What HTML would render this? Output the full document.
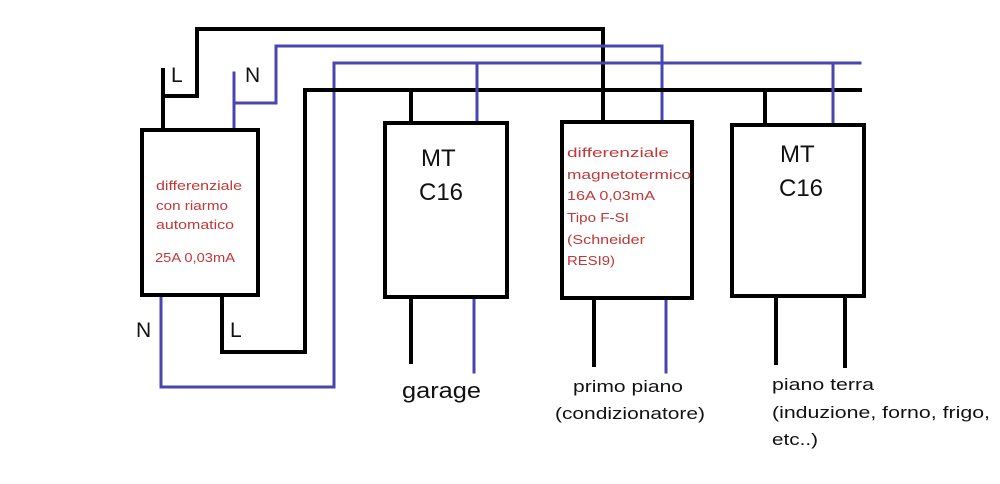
<!DOCTYPE html>
<html><head><meta charset="utf-8"><style>html,body{margin:0;padding:0;background:#fff}svg{display:block}</style></head>
<body>
<svg width="1000" height="484" viewBox="0 0 1000 484" xmlns="http://www.w3.org/2000/svg" font-family="Liberation Sans, sans-serif">
<rect width="1000" height="484" fill="#fff"/>
<g fill="none" stroke-linecap="square">
<polyline points="163,70 163,130" stroke="#000" stroke-width="4"/>
<polyline points="163,96 197,96 197,29 603,29 603,122" stroke="#000" stroke-width="4"/>
<polyline points="234,73 234,130" stroke="#4a46b0" stroke-width="3"/>
<polyline points="234,103 276,103 276,46 662,46 662,122" stroke="#4a46b0" stroke-width="3"/>
<polyline points="161,295 161,387 334,387 334,63 860,63" stroke="#4a46b0" stroke-width="3"/>
<polyline points="222,295 222,352 305,352 305,90 860,90" stroke="#000" stroke-width="4"/>
<line x1="411" y1="90" x2="411" y2="123" stroke="#000" stroke-width="4"/>
<line x1="477" y1="63" x2="477" y2="123" stroke="#4a46b0" stroke-width="3"/>
<line x1="765" y1="90" x2="765" y2="125" stroke="#000" stroke-width="4"/>
<line x1="833" y1="63" x2="833" y2="125" stroke="#4a46b0" stroke-width="3"/>
<line x1="411" y1="297" x2="411" y2="362" stroke="#000" stroke-width="4"/>
<line x1="474" y1="297" x2="474" y2="372" stroke="#4a46b0" stroke-width="3"/>
<line x1="594" y1="298" x2="594" y2="365" stroke="#000" stroke-width="4"/>
<line x1="666" y1="298" x2="666" y2="372" stroke="#4a46b0" stroke-width="3"/>
<line x1="776" y1="296" x2="776" y2="363" stroke="#000" stroke-width="4"/>
<line x1="845" y1="296" x2="845" y2="366" stroke="#000" stroke-width="4"/>
<rect x="142" y="130" width="116" height="165" stroke="#000" stroke-width="4" fill="#fff"/>
<rect x="385" y="123" width="122" height="174" stroke="#000" stroke-width="4" fill="#fff"/>
<rect x="562" y="122" width="130" height="176" stroke="#000" stroke-width="4" fill="#fff"/>
<rect x="732" y="125" width="132" height="171" stroke="#000" stroke-width="4" fill="#fff"/>
</g>
<g font-size="21" fill="#111">
<text x="171" y="82">L</text>
<text x="245" y="82">N</text>
<text x="136" y="337">N</text>
<text x="230" y="337">L</text>
</g>
<g fill="#c03838" font-size="13">
<text x="156" y="190" textLength="86" lengthAdjust="spacingAndGlyphs">differenziale</text>
<text x="156" y="210" textLength="72" lengthAdjust="spacingAndGlyphs">con riarmo</text>
<text x="156" y="229" textLength="78" lengthAdjust="spacingAndGlyphs">automatico</text>
<text x="155" y="262" textLength="80" lengthAdjust="spacingAndGlyphs">25A 0,03mA</text>
<text x="567" y="157" textLength="102" lengthAdjust="spacingAndGlyphs">differenziale</text>
<text x="567" y="179" textLength="124" lengthAdjust="spacingAndGlyphs">magnetotermico</text>
<text x="567" y="200" textLength="88" lengthAdjust="spacingAndGlyphs">16A 0,03mA</text>
<text x="567" y="222" textLength="62" lengthAdjust="spacingAndGlyphs">Tipo F-SI</text>
<text x="567" y="244" textLength="78" lengthAdjust="spacingAndGlyphs">(Schneider</text>
<text x="567" y="265" textLength="48" lengthAdjust="spacingAndGlyphs">RESI9)</text>
</g>
<g font-size="24" fill="#111">
<text x="421" y="166">MT</text>
<text x="419" y="200">C16</text>
<text x="780" y="162">MT</text>
<text x="779" y="196">C16</text>
</g>
<g fill="#111">
<text x="402" y="398" font-size="22" textLength="79" lengthAdjust="spacingAndGlyphs">garage</text>
<text x="573" y="392" font-size="17" textLength="110" lengthAdjust="spacingAndGlyphs">primo piano</text>
<text x="555" y="419" font-size="17" textLength="150" lengthAdjust="spacingAndGlyphs">(condizionatore)</text>
<text x="772" y="390" font-size="17" textLength="102" lengthAdjust="spacingAndGlyphs">piano terra</text>
<text x="772" y="418" font-size="17" textLength="218" lengthAdjust="spacingAndGlyphs">(induzione, forno, frigo,</text>
<text x="772" y="445" font-size="17" textLength="46" lengthAdjust="spacingAndGlyphs">etc..)</text>
</g>
</svg>
</body></html>
